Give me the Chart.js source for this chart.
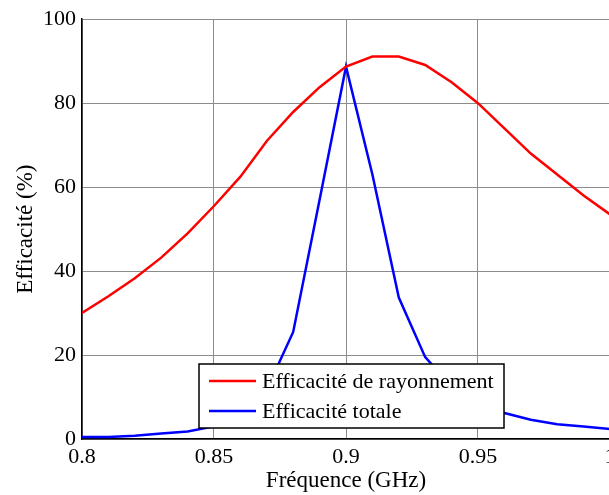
<!DOCTYPE html>
<html>
<head>
<meta charset="utf-8">
<script src="https://cdn.jsdelivr.net/npm/chart.js@4.4.0/dist/chart.umd.min.js"></script>
<style>
    html, body { margin: 0; padding: 0; overflow: hidden; background: #fff; }
    #wrap { width: 640px; height: 495px; }
</style>
</head>
<body>
<div id="wrap"><canvas id="chart" width="640" height="495"></canvas></div>
<script>
// données
const freq = [0.80, 0.81, 0.82, 0.83, 0.84, 0.85, 0.86, 0.87, 0.88, 0.89, 0.90,
              0.91, 0.92, 0.93, 0.94, 0.95, 0.96, 0.97, 0.98, 0.99, 1.00];
const effRayonnement = [30, 34, 38.3, 43.2, 49, 55.5, 62.5, 71, 77.9, 83.8, 88.7,
                        91.1, 91.1, 89.1, 85, 80, 74, 68, 63, 58, 53.5];
const effTotale = [0.5, 0.5, 0.8, 1.3, 1.8, 3, 6, 11.8, 25.5, 57, 88.7,
                   63, 33.7, 19.5, 12.5, 8.5, 6.2, 4.6, 3.5, 3, 2.4];
const xTicks = [0.8, 0.85, 0.9, 0.95, 1];
const yTicks = [0, 20, 40, 60, 80, 100];

const serif = "'Liberation Serif', 'DejaVu Serif', serif";

function toPoints(ys) {
    return freq.map((f, i) => ({ x: f, y: ys[i] }));
}

// légende dans le cadre, comme sous Matlab
const boxLegend = {
    id: "boxLegend",
    afterDraw(chart) {
        const ctx = chart.ctx;
        const x = 199, y = 364, w = 305, h = 64;
        ctx.save();
        ctx.fillStyle = "#fff";
        ctx.fillRect(x, y, w, h);
        ctx.strokeStyle = "#000";
        ctx.lineWidth = 1.5;
        ctx.strokeRect(x, y, w, h);
        ctx.font = "22px " + serif;
        ctx.textBaseline = "middle";
        chart.data.datasets.forEach((ds, i) => {
            const ly = y + 17 + i * 30;
            ctx.strokeStyle = ds.borderColor;
            ctx.lineWidth = 2.5;
            ctx.beginPath();
            ctx.moveTo(x + 10, ly);
            ctx.lineTo(x + 57, ly);
            ctx.stroke();
            ctx.fillStyle = "#000";
            ctx.fillText(ds.label, x + 63, ly + 1);
        });
        ctx.restore();
    }
};

new Chart(document.getElementById("chart"), {
    type: "line",
    data: {
        datasets: [
            {
                label: "Efficacité de rayonnement",
                data: toPoints(effRayonnement),
                borderColor: "#ff0000",
                borderWidth: 2.5,
                pointRadius: 0,
                tension: 0
            },
            {
                label: "Efficacité totale",
                data: toPoints(effTotale),
                borderColor: "#0000ff",
                borderWidth: 2.5,
                pointRadius: 0,
                tension: 0
            }
        ]
    },
    options: {
        responsive: false,
        animation: false,
        layout: { padding: { top: 16, right: 30, left: 0, bottom: 0 } },
        plugins: {
            legend: { display: false },
            tooltip: { enabled: false }
        },
        scales: {
            x: {
                type: "linear",
                min: 0.8,
                max: 1,
                afterBuildTicks: s => { s.ticks = xTicks.map(v => ({ value: v })); },
                afterFit: s => { s.height = 56; },
                ticks: {
                    color: "#000",
                    font: { family: serif, size: 22 },
                    padding: 5,
                    maxRotation: 0,
                    callback: v => String(Math.round(v * 100) / 100)
                },
                grid: { color: "#8c8c8c", lineWidth: 1, drawTicks: false },
                border: { color: "#000", width: 1.5 },
                title: {
                    display: true,
                    text: "Fréquence (GHz)",
                    color: "#000",
                    font: { family: serif, size: 23 },
                    padding: { top: 0, bottom: 0 }
                }
            },
            y: {
                min: 0,
                max: 100,
                afterBuildTicks: s => { s.ticks = yTicks.map(v => ({ value: v })); },
                afterFit: s => { s.width = 82; },
                ticks: {
                    color: "#000",
                    font: { family: serif, size: 22 },
                    padding: 6
                },
                grid: { color: "#8c8c8c", lineWidth: 1, drawTicks: false },
                border: { color: "#000", width: 1.5 },
                title: {
                    display: true,
                    text: "Efficacité (%)",
                    color: "#000",
                    font: { family: serif, size: 23 },
                    padding: { top: 12, bottom: 0 }
                }
            }
        }
    },
    plugins: [boxLegend]
});
</script>
</body>
</html>
